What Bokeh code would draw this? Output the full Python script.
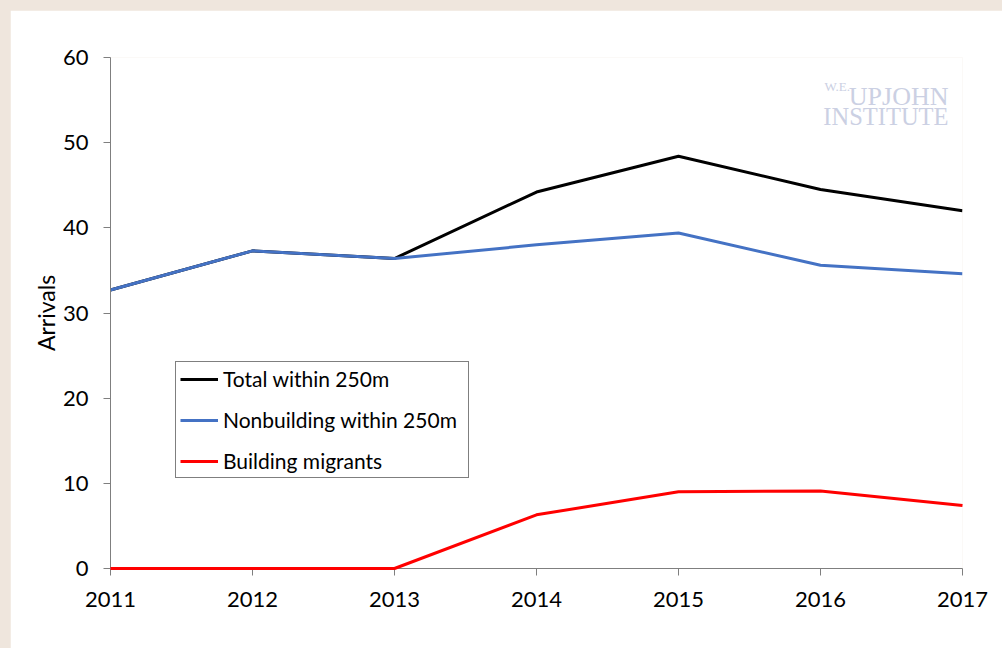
from bokeh.plotting import figure
from bokeh.models import Legend, LegendItem, Label, FixedTicker, Range1d
from bokeh.embed import file_html
from bokeh.resources import INLINE

years = [2011, 2012, 2013, 2014, 2015, 2016, 2017]
total = [32.7, 37.3, 36.4, 44.2, 48.4, 44.5, 42.0]
nonbuilding = [32.7, 37.3, 36.4, 38.0, 39.4, 35.6, 34.6]
building = [0.0, 0.0, 0.0, 6.3, 9.0, 9.1, 7.4]
y_ticks = [0, 10, 20, 30, 40, 50, 60]
series_names = ["Total within 250m", "Nonbuilding within 250m", "Building migrants"]
FONT = "Lato"

p = figure(width=992, height=638, output_backend="svg", toolbar_location=None,
           x_range=Range1d(2011, 2017), y_range=Range1d(0, 60),
           min_border_left=100, min_border_right=40, min_border_top=47, min_border_bottom=80,
           border_fill_color="white", background_fill_color="white", outline_line_color=None)
p.margin = (10, 0, 0, 10)
p.xgrid.visible = False
p.ygrid.visible = False

r_total = p.line(years, total, line_color="black", line_width=3)
r_non = p.line(years, nonbuilding, line_color="#4472C4", line_width=3)
r_bld = p.line(years, building, line_color="#FF0000", line_width=3)
r_bld.level = "overlay"

for ax in (p.xaxis[0], p.yaxis[0]):
    ax.axis_line_color = "#7f7f7f"
    ax.major_tick_line_color = "#7f7f7f"
    ax.minor_tick_line_color = None
    ax.major_tick_in = 0
    ax.major_tick_out = 7
    ax.major_label_text_font = FONT
    ax.major_label_text_font_size = "22px"
    ax.major_label_text_color = "black"

p.xaxis.ticker = FixedTicker(ticks=years)
p.yaxis.ticker = FixedTicker(ticks=y_ticks)
p.xaxis.major_label_standoff = 16
p.yaxis.major_label_standoff = 15
p.yaxis.axis_label = "Arrivals"
p.yaxis.axis_label_text_font = FONT
p.yaxis.axis_label_text_font_size = "23px"
p.yaxis.axis_label_text_font_style = "normal"
p.yaxis.axis_label_text_color = "black"
p.yaxis.axis_label_standoff = 0

legend = Legend(items=[LegendItem(label=series_names[0], renderers=[r_total]),
                       LegendItem(label=series_names[1], renderers=[r_non]),
                       LegendItem(label=series_names[2], renderers=[r_bld])],
                location=(65, 90), orientation="vertical",
                border_line_color="black", border_line_width=1,
                background_fill_color="white", background_fill_alpha=1,
                label_text_font=FONT, label_text_font_size="21px",
                label_text_color="black",
                glyph_width=38, glyph_height=20, label_height=20,
                spacing=16, padding=4, label_standoff=5, label_width=241,
                margin=0)
p.add_layout(legend, "center")

wm_color = "#cbd0e3"
p.add_layout(Label(x=838, y=472, x_units="screen", y_units="screen", text="UPJOHN",
                   text_align="right", text_baseline="alphabetic",
                   text_font="Liberation Serif", text_font_size="26px", text_color=wm_color))
p.add_layout(Label(x=838, y=452, x_units="screen", y_units="screen", text="INSTITUTE",
                   text_align="right", text_baseline="alphabetic",
                   text_font="Liberation Serif", text_font_size="24.5px", text_color=wm_color))
p.add_layout(Label(x=714, y=482, x_units="screen", y_units="screen", text="W.E.",
                   text_align="left", text_baseline="alphabetic",
                   text_font="Liberation Serif", text_font_size="13px", text_color=wm_color))

html = file_html(p, INLINE)
i = html.rfind("<body>")
if i >= 0:
    html = html[:i] + '<body style="background:#efe6dd;">' + html[i + len("<body>"):]
else:
    html += "<style>body{background:#efe6dd;}</style>"
open("out.html", "w").write(html)
